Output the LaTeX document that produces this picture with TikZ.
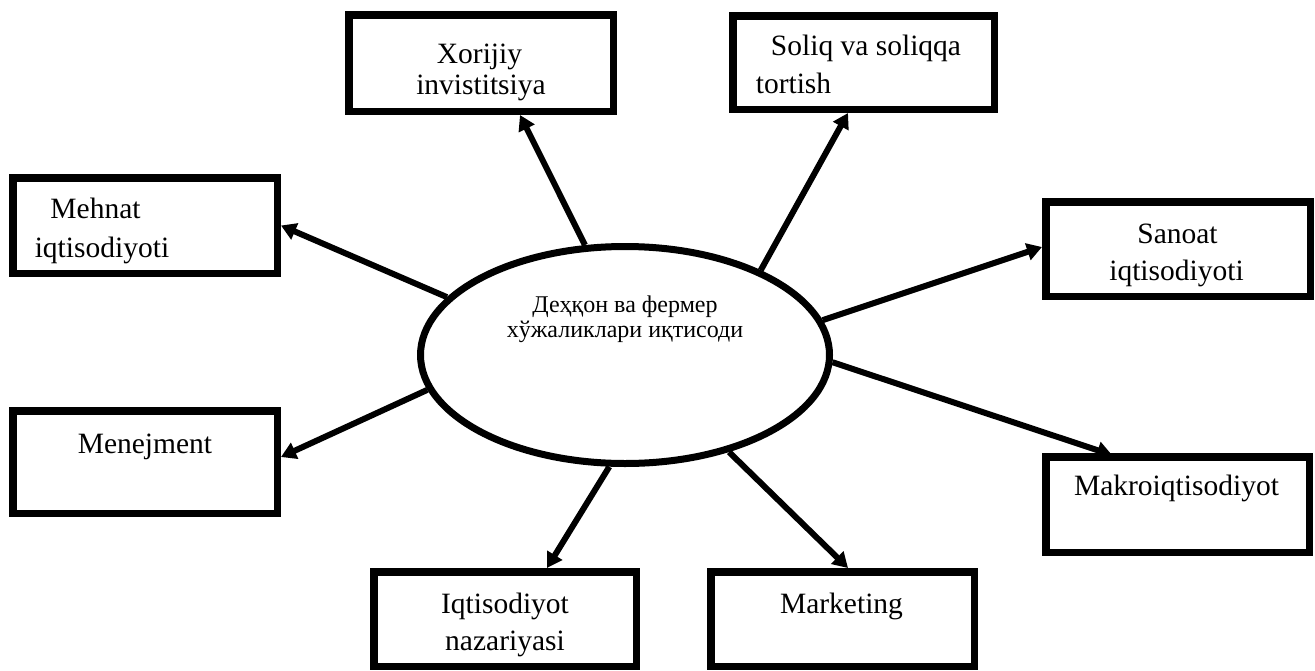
\documentclass[tikz,border=0pt]{standalone}
\usepackage{fontspec}
\setmainfont{Liberation Serif}
\usetikzlibrary{arrows.meta,shapes.geometric}
\begin{document}
\begin{tikzpicture}[x=1pt,y=-1pt,
  box/.style={draw=black,line width=7.5pt,rectangle,inner sep=0pt,fill=white},
  hub/.style={draw=black,line width=7pt,ellipse,inner sep=0pt,minimum width=409pt,minimum height=217pt},
  txt/.style={anchor=base,inner sep=0pt,font=\fontsize{29.5}{32}\selectfont},
  etxt/.style={anchor=base,inner sep=0pt,font=\fontsize{24}{26}\selectfont},
  link/.style={line width=6pt,-{Triangle[length=15pt,width=17pt]}}]
\useasboundingbox (0,0) rectangle (1315,670);
% boxes
\node[box,minimum width=264.5pt,minimum height=95.5pt]  (mehnat) at (145,225.5) {};
\node[box,minimum width=264.5pt,minimum height=102.5pt] (menej)  at (145,462) {};
\node[box,minimum width=264.5pt,minimum height=96.5pt]  (xor)    at (481,63) {};
\node[box,minimum width=261.5pt,minimum height=93.5pt]  (soliq)  at (863.5,62.5) {};
\node[box,minimum width=264.5pt,minimum height=94.5pt]  (sanoat) at (1178,249) {};
\node[box,minimum width=263.5pt,minimum height=95.5pt]  (makro)  at (1177.5,504.5) {};
\node[box,minimum width=262.5pt,minimum height=94.5pt]  (iqt)    at (505,619) {};
\node[box,minimum width=263.5pt,minimum height=94.5pt]  (market) at (842.5,619) {};
% hub
\node[hub] (e) at (625,355) {};
% texts
\node[etxt] (e1) at (625,312) {Деҳқон ва фермер};
\node[etxt] (e2) at (625,337) {хўжаликлари иқтисоди};
\node[txt] (t1a) at (95.5,218) {Mehnat};
\node[txt] (t1b) at (102,257) {iqtisodiyoti};
\node[txt] (t2)  at (145,453) {Menejment};
\node[txt] (t3a) at (479.5,63) {Xorijiy};
\node[txt] (t3b) at (481,94) {invistitsiya};
\node[txt] (t4a) at (866,55) {Soliq va soliqqa};
\node[txt] (t4b) at (793.5,93) {tortish};
\node[txt] (t5a) at (1177.5,243) {Sanoat};
\node[txt] (t5b) at (1176.5,280) {iqtisodiyoti};
\node[txt] (t6)  at (1176.5,495) {Makroiqtisodiyot};
\node[txt] (t7a) at (505,613) {Iqtisodiyot};
\node[txt] (t7b) at (505,650) {nazariyasi};
\node[txt] (t8)  at (841.5,613) {Marketing};
% connectors
\draw[link] (e.162.1) -- (mehnat.east);
\draw[link] (e.190.4) -- ([yshift=5pt]menej.east);
\draw[link] (e.110.8) -- ([xshift=39pt]xor.south);
\draw[link] (e.32.3) -- ([xshift=-15.5pt]soliq.south);
\draw[link] (e.10.2) -- ([yshift=2pt]sanoat.west);
\draw[link] (e.-2.2) -- ([xshift=-65.5pt,yshift=-2pt]makro.north);
\draw[link] (e.262.8) -- ([xshift=42pt]iqt.north);
\draw[link] (e.-43.4) -- ([xshift=5.5pt]market.north);
\end{tikzpicture}
\end{document}
